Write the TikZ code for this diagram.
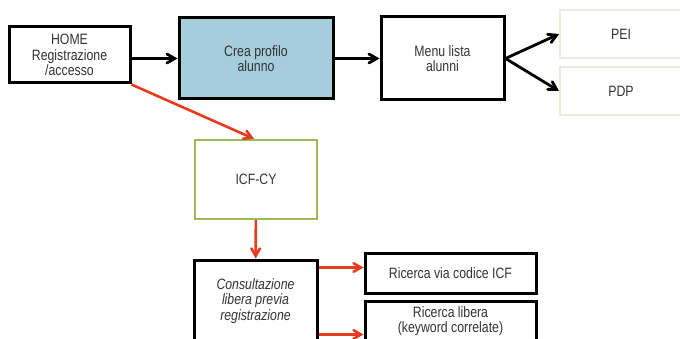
\documentclass[tikz,border=0pt]{standalone}
\usepackage{fontspec}
\setmainfont{Liberation Sans}[FakeStretch=0.82]
\usepackage{tikz}
\usetikzlibrary{arrows, positioning}
\definecolor{boxblue}{HTML}{A6CDDC}
\definecolor{flowred}{HTML}{E63B1F}
\definecolor{icfgreen}{HTML}{9BBB59}
\definecolor{paleline}{HTML}{ECEBDD}
\definecolor{txtgray}{HTML}{333333}
\tikzset{
  every node/.style={font=\fontsize{15}{15.5}\selectfont, text=txtgray, align=center},
  blackbox/.style={draw=black, line width=3pt, inner sep=0pt},
  palebox/.style={draw=paleline, line width=2pt, inner sep=0pt},
  greenbox/.style={draw=icfgreen, line width=2.4pt, inner sep=0pt},
  blackarrow/.style={->, >=angle 60, line width=2.8pt},
  redarrow/.style={->, >=angle 60, line width=2.6pt, draw=flowred}
}

\begin{document}
\begin{tikzpicture}[x=1pt, y=-1pt]
\useasboundingbox (0,0) rectangle (680,339);
\node[blackbox, minimum width=121pt, minimum height=56pt] (home) at (69.5,55) {HOME\\Registrazione\\/accesso};
\node[blackbox, fill=boxblue, minimum width=154pt, minimum height=81pt] (crea) at (256,58.5) {Crea profilo\\alunno};
\node[blackbox, minimum width=123pt, minimum height=83pt] (menu) at (442.5,58.5) {Menu lista\\alunni};
\node[palebox, minimum width=122pt, minimum height=48pt] (pei) at (621,34) {PEI};
\node[palebox, minimum width=122pt, minimum height=48pt] (pdp) at (621,91) {PDP};
\node[greenbox, minimum width=122pt, minimum height=79pt] (icf) at (256,179.5) {ICF-CY};
\node[blackbox, minimum width=123pt, minimum height=82pt] (consult) at (255.5,301) {\itshape Consultazione\\\itshape libera previa\\\itshape registrazione};
\node[blackbox, minimum width=171pt, minimum height=40pt] (codice) at (450.5,273) {Ricerca via codice ICF};
\node[blackbox, minimum width=171pt, minimum height=40pt] (libera) at (450.5,321) {Ricerca libera\\(keyword correlate)};
\draw[blackarrow] (home.east |- crea.west) -- (crea.west);
\draw[blackarrow] (crea) -- (menu);
\draw[blackarrow] (menu.east) -- (pei.west);
\draw[blackarrow] (menu.east) -- (pdp.west);
\draw[redarrow] (home.south east) -- ([xshift=-2pt]icf.north);
\draw[redarrow] (icf) -- (consult);
\draw[redarrow] ([yshift=-9pt]consult.north east) -- ([yshift=-9pt]consult.north east -| codice.west);
\draw[redarrow] ([yshift=9pt]consult.south east) -- ([yshift=9pt]consult.south east -| libera.west);
\end{tikzpicture}
\end{document}
